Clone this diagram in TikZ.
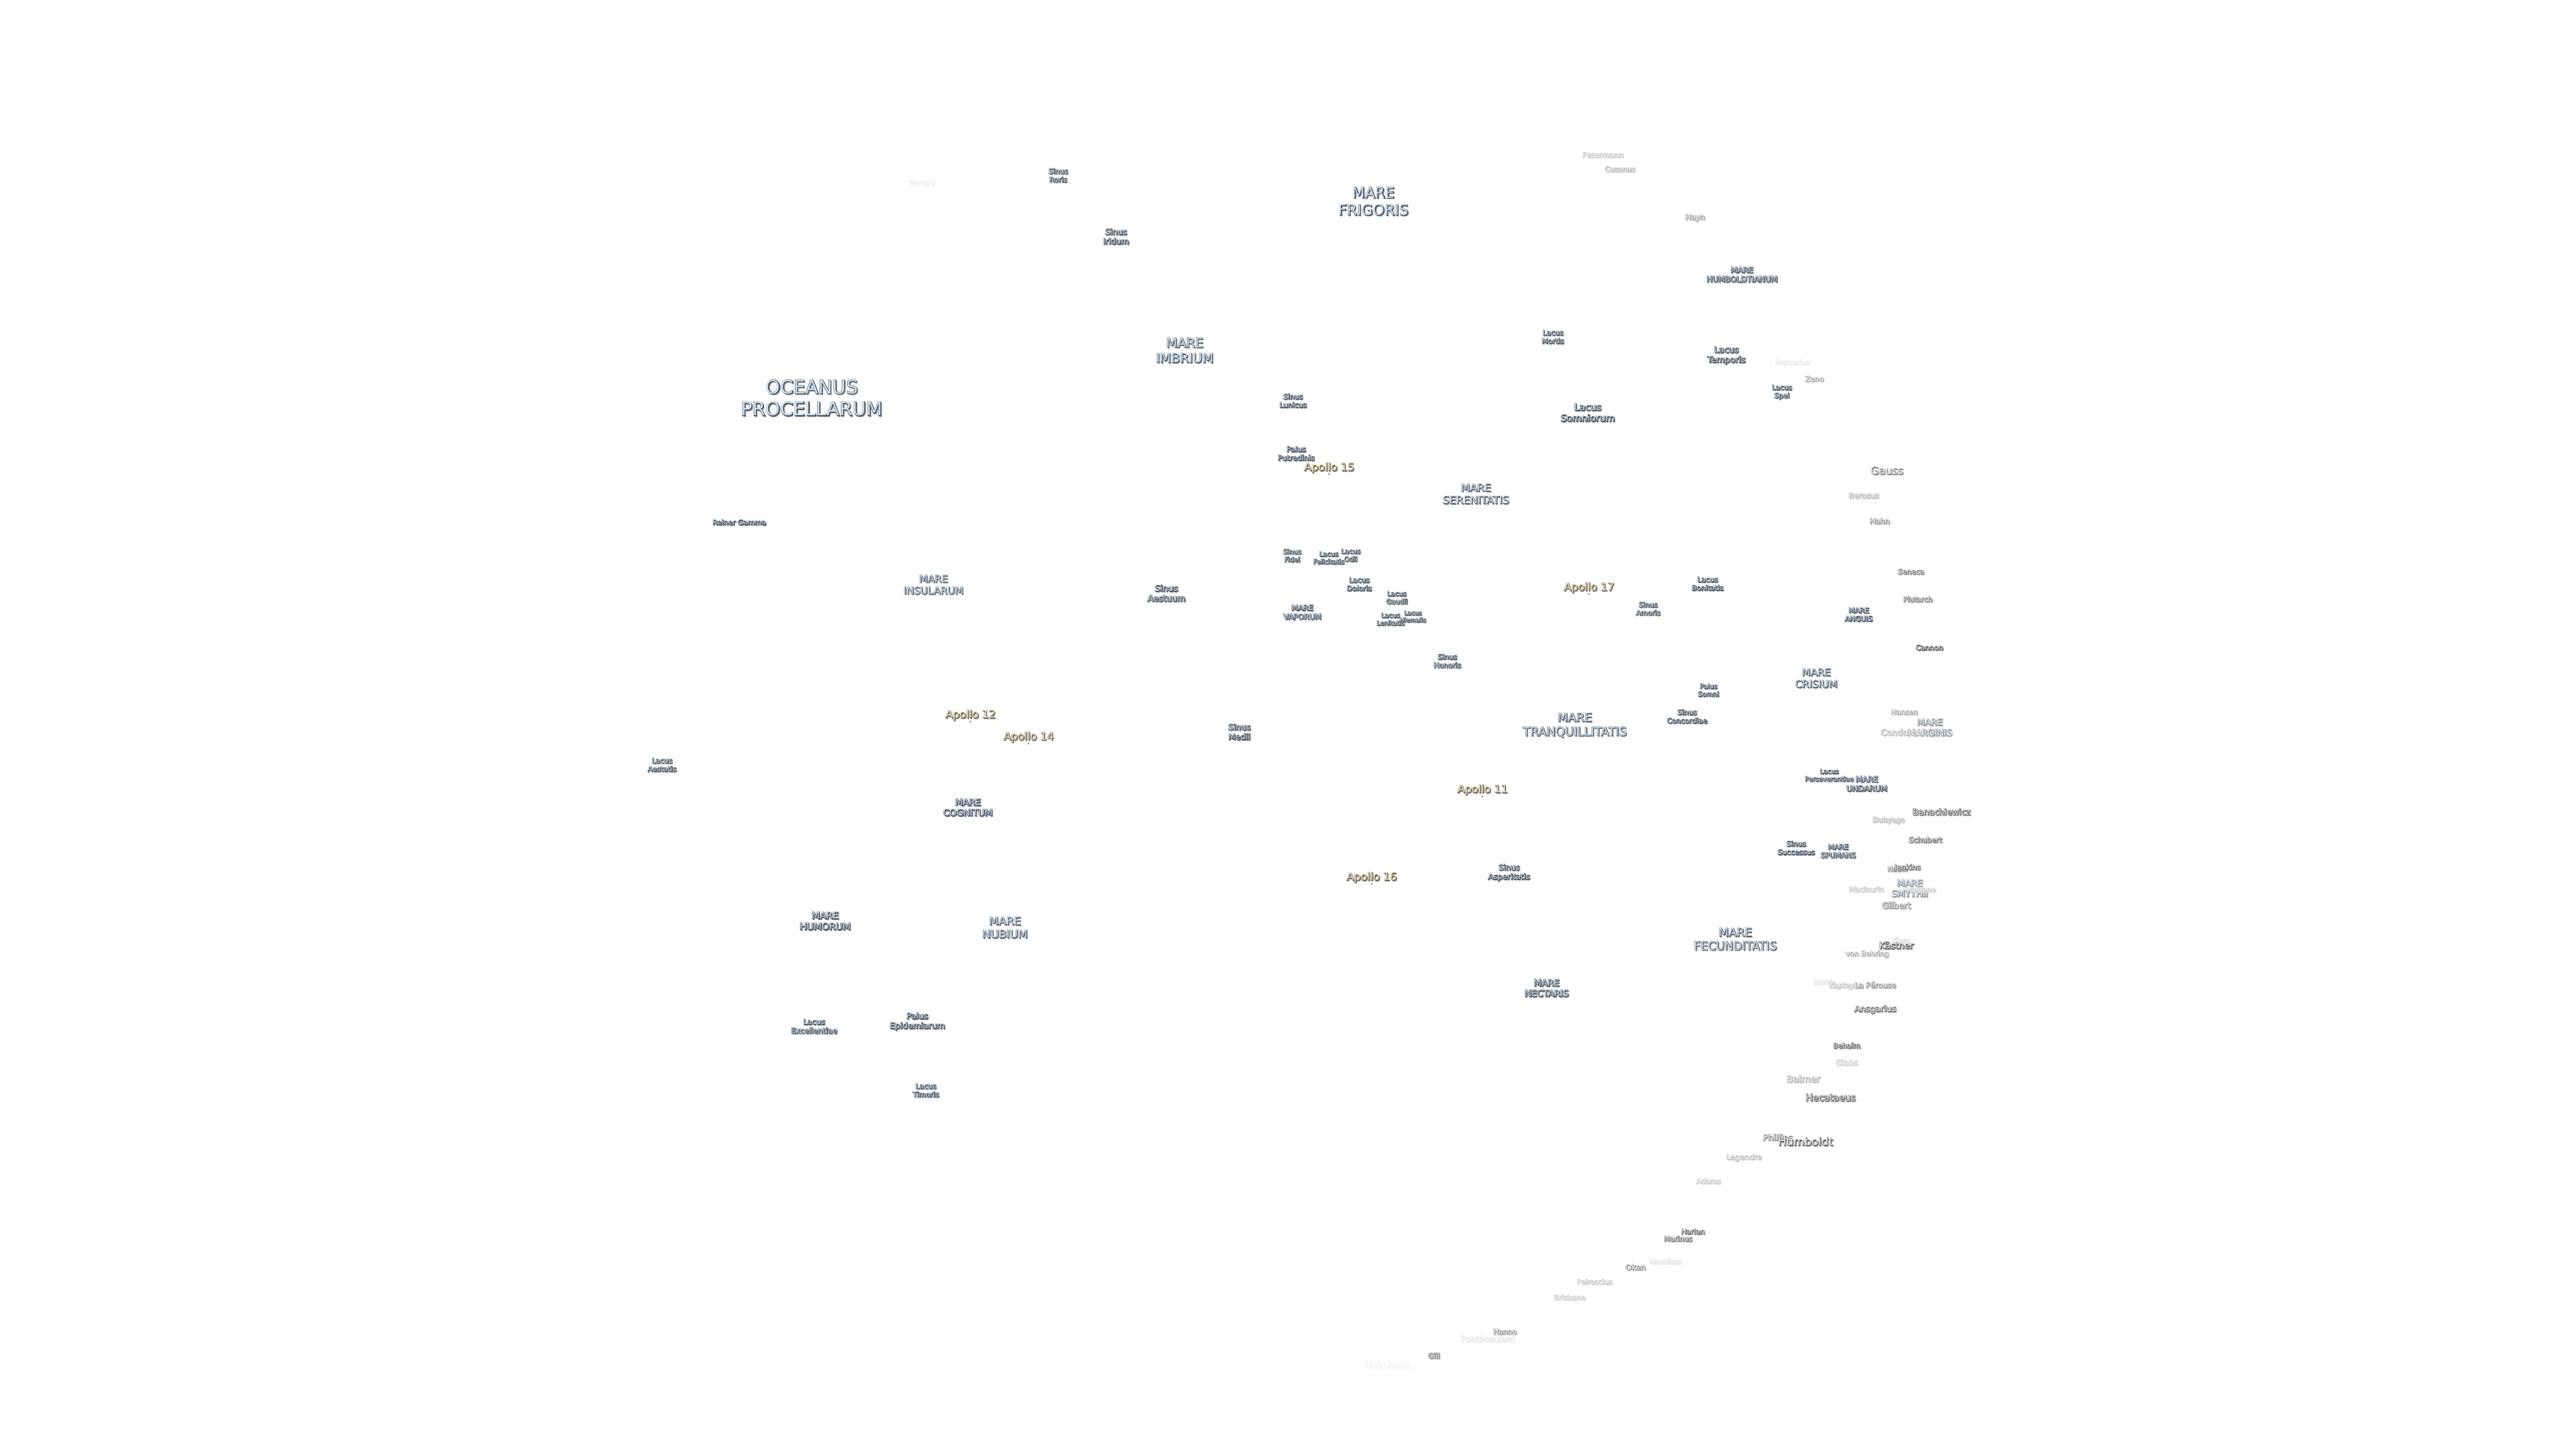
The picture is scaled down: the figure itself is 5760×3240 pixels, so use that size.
\documentclass[tikz,border=0pt]{standalone}
\usepackage{fontspec}
\newfontfamily\moonfont{DejaVu Sans}
\newfontfamily\moonbold[FakeBold=8]{DejaVu Sans}
\newfontfamily\moonthin[FakeBold=4]{DejaVu Sans}

\definecolor{seafill}{HTML}{CFE3F8}
\definecolor{sitefill}{HTML}{FBE3B5}
\definecolor{craterfill}{HTML}{F2F2F2}
\definecolor{sealine}{HTML}{35414D}
\definecolor{siteline}{HTML}{5A5448}
\definecolor{craterline}{HTML}{222222}
\definecolor{moonshadow}{HTML}{808080}

\tikzset{
	lbl/.style={inner sep=0pt, yshift=-3pt},
	site/.style={circle, fill=siteline, inner sep=0pt, minimum size=3.5pt}
}

% size, fill, outline, opacity, lines
\newcommand{\moontext}[5]{%
	\fontsize{#1}{\fpeval{#1*1.17}}\selectfont
	\def\moonlines{\begin{tabular}{@{}c@{}}#5\end{tabular}}%
	\ifdim#1pt>22pt\let\moonstroke\moonthin\else\let\moonstroke\moonbold\fi
	\rlap{\kern2pt\raisebox{-2pt}{\color{moonshadow!#4!white}\moonstroke\moonlines}}%
	\rlap{\color{#3!#4!white}\moonstroke\moonlines}%
	{\color{#2!#4!white}\moonfont\moonlines}%
}
\newcommand{\sea}[2]{\moontext{#1}{seafill}{sealine}{100}{#2}}
\newcommand{\fadedsea}[3]{\moontext{#1}{seafill}{sealine}{#2}{#3}}
\newcommand{\landing}[1]{\moontext{24}{sitefill}{siteline}{100}{#1}}
\newcommand{\crater}[3]{\moontext{#1}{craterfill}{craterline}{#2}{#3}}

\begin{document}
\begin{tikzpicture}[x=1pt, y=-1pt]
	\useasboundingbox (0,0) rectangle (5760,3240);
	\fill [white] (0,0) rectangle (5760,3240);
	% Mers
	\path (1815, 893)	node (procellarum)	[lbl] {\sea{42}{OCEANUS\\PROCELLARUM}};
	\path (2649, 785)	node (imbrium)		[lbl] {\sea{29}{MARE\\IMBRIUM}};
	\path (3071, 452)	node (frigoris)		[lbl] {\sea{33}{MARE\\FRIGORIS}};
	\path (3895, 614)	node (humboldtianum)	[lbl] {\sea{17.5}{MARE\\HUMBOLDTIANUM}};
	\path (3300, 1105)	node (serenitatis)	[lbl] {\sea{23.5}{MARE\\SERENITATIS}};
	\path (2912, 1369)	node (vaporum)		[lbl] {\sea{17}{MARE\\VAPORUM}};
	\path (2087, 1308)	node (insularum)	[lbl] {\sea{22.5}{MARE\\INSULARUM}};
	\path (2164, 1806)	node (cognitum)		[lbl] {\sea{20}{MARE\\COGNITUM}};
	\path (1845, 2060)	node (humorum)		[lbl] {\sea{21}{MARE\\HUMORUM}};
	\path (2247, 2075)	node (nubium)		[lbl] {\sea{25}{MARE\\NUBIUM}};
	\path (3521, 1621)	node (tranquillitatis)	[lbl] {\sea{27}{MARE\\TRANQUILLITATIS}};
	\path (3880, 2101)	node (fecunditatis)	[lbl] {\sea{26}{MARE\\FECUNDITATIS}};
	\path (3458, 2210)	node (nectaris)		[lbl] {\sea{20}{MARE\\NECTARIS}};
	\path (4061, 1517)	node (crisium)		[lbl] {\sea{22.5}{MARE\\CRISIUM}};
	\path (4156, 1374)	node (anguis)		[lbl] {\sea{16}{MARE\\ANGUIS}};
	\path (4174, 1753)	node (undarum)		[lbl] {\sea{17.5}{MARE\\UNDARUM}};
	\path (4110, 1903)	node (spumans)		[lbl] {\sea{16}{MARE\\SPUMANS}};
	\path (4315, 1627)	node (marginis)		[lbl] {\fadedsea{20}{60}{MARE\\MARGINIS}};
	\path (4270, 1987)	node (smythii)		[lbl] {\fadedsea{20}{60}{MARE\\SMYTHII}};
	% Sinus, lacus, palus
	\path (2366, 392)	node (roris)		[lbl] {\sea{16}{Sinus\\Roris}};
	\path (2495, 529)	node (iridum)		[lbl] {\sea{18}{Sinus\\Iridum}};
	\path (2891, 896)	node (lunicus)		[lbl] {\sea{16}{Sinus\\Lunicus}};
	\path (2898, 1014)	node (putredinis)	[lbl] {\sea{16.5}{Palus\\Putredinis}};
	\path (3472, 753)	node (mortis)		[lbl] {\sea{16}{Lacus\\Mortis}};
	\path (3860, 793)	node (temporis)		[lbl] {\sea{19}{Lacus\\Temporis}};
	\path (3984, 875)	node (spei)		[lbl] {\sea{15.5}{Lacus\\Spei}};
	\path (3550, 923)	node (somniorum)	[lbl] {\sea{21}{Lacus\\Somniorum}};
	\path (2889, 1242)	node (fidei)		[lbl] {\sea{15}{Sinus\\Fidei}};
	\path (2971, 1247)	node (felicitatis)	[lbl] {\sea{14.7}{Lacus\\Felicitatis}};
	\path (3020, 1241)	node (odii)		[lbl] {\sea{15}{Lacus\\Odii}};
	\path (3039, 1306)	node (doloris)		[lbl] {\sea{16}{Lacus\\Doloris}};
	\path (3123, 1336)	node (gaudii)		[lbl] {\sea{15}{Lacus\\Gaudii}};
	\path (3109, 1384)	node (lenitatis)	[lbl] {\sea{14.6}{Lacus\\Lenitatis}};
	\path (3159, 1378)	node (hiemalis)		[lbl] {\sea{13.5}{Lacus\\Hiemalis}};
	\path (3236, 1478)	node (honoris)		[lbl] {\sea{16}{Sinus\\Honoris}};
	\path (3685, 1361)	node (amoris)		[lbl] {\sea{15.5}{Sinus\\Amoris}};
	\path (3818, 1305)	node (bonitatis)	[lbl] {\sea{16}{Lacus\\Bonitatis}};
	\path (3820, 1543)	node (somni)		[lbl] {\sea{15}{Palus\\Somni}};
	\path (3772, 1602)	node (concordiae)	[lbl] {\sea{16}{Sinus\\Concordiae}};
	\path (4090, 1733)	node (perseverantiae)	[lbl] {\sea{14.5}{Lacus\\Perseverantiae}};
	\path (4016, 1896)	node (successus)	[lbl] {\sea{16}{Sinus\\Successus}};
	\path (3374, 1950)	node (asperitatis)	[lbl] {\sea{17.5}{Sinus\\Asperitatis}};
	\path (2771, 1637)	node (medii)		[lbl] {\sea{18.5}{Sinus\\Medii}};
	\path (2608, 1327)	node (aestuum)		[lbl] {\sea{19}{Sinus\\Aestuum}};
	\path (1653, 1168)	node (reiner)		[lbl] {\sea{16}{Reiner Gamma}};
	\path (1480, 1710)	node (aestatis)		[lbl] {\sea{16}{Lacus\\Aestatis}};
	\path (1820, 2295)	node (excellentiae)	[lbl] {\sea{17}{Lacus\\Excellentiae}};
	\path (2051, 2283)	node (epidemiarum)	[lbl] {\sea{18.5}{Palus\\Epidemiarum}};
	\path (2070, 2438)	node (timoris)		[lbl] {\sea{16}{Lacus\\Timoris}};
	% Apollo
	\path (2972, 1045)	node (apollo15)		[lbl] {\landing{Apollo 15}};
	\path (3553, 1313)	node (apollo17)		[lbl] {\landing{Apollo 17}};
	\path (2170, 1598)	node (apollo12)		[lbl] {\landing{Apollo 12}};
	\path (2300, 1647)	node (apollo14)		[lbl] {\landing{Apollo 14}};
	\path (3315, 1765)	node (apollo11)		[lbl] {\landing{Apollo 11}};
	\path (3067, 1961)	node (apollo16)		[lbl] {\landing{Apollo 16}};
	\path (2972, 1060)	node (site15)		[site] {};
	\path (3553, 1328)	node (site17)		[site] {};
	\path (2170, 1614)	node (site12)		[site] {};
	\path (2300, 1663)	node (site14)		[site] {};
	\path (3315, 1781)	node (site11)		[site] {};
	\path (3067, 1977)	node (site16)		[site] {};
	% Cratères
	\path (2061, 408)	node (gerard)		[lbl] {\crater{17}{8}{Gerard}};
	\path (3584, 346)	node (petermann)	[lbl] {\crater{17}{28}{Petermann}};
	\path (3622, 378)	node (cusanus)		[lbl] {\crater{16}{38}{Cusanus}};
	\path (3790, 485)	node (hayn)		[lbl] {\crater{17}{50}{Hayn}};
	\path (4008, 810)	node (mercurius)	[lbl] {\crater{16}{12}{Mercurius}};
	\path (4057, 847)	node (zeno)		[lbl] {\crater{16.5}{45}{Zeno}};
	\path (4219, 1053)	node (gauss)		[lbl] {\crater{24}{70}{Gauss}};
	\path (4167, 1108)	node (berosus)		[lbl] {\crater{17}{38}{Berosus}};
	\path (4203, 1165)	node (hahn)		[lbl] {\crater{17}{55}{Hahn}};
	\path (4273, 1278)	node (seneca)		[lbl] {\crater{16}{70}{Seneca}};
	\path (4288, 1340)	node (plutarch)		[lbl] {\crater{16}{70}{Plutarch}};
	\path (4314, 1448)	node (cannon)		[lbl] {\crater{16}{85}{Cannon}};
	\path (4258, 1592)	node (hansen)		[lbl] {\crater{16}{42}{Hansen}};
	\path (4254, 1638)	node (condorcet)	[lbl] {\crater{19}{36}{Condorcet}};
	\path (4341, 1816)	node (banachiewicz)	[lbl] {\crater{19}{80}{Banachiewicz}};
	\path (4223, 1833)	node (dubyago)		[lbl] {\crater{16}{38}{Dubyago}};
	\path (4305, 1878)	node (schubert)		[lbl] {\crater{16.5}{75}{Schubert}};
	\path (4243, 1943)	node (nobili)		[lbl] {\crater{16}{55}{Nobili}};
	\path (4265, 1939)	node (jenkins)		[lbl] {\crater{16.5}{75}{Jenkins}};
	\path (4173, 1988)	node (maclaurin)	[lbl] {\crater{16}{28}{Maclaurin}};
	\path (4295, 1989)	node (haldane)		[lbl] {\crater{16}{28}{Haldane}};
	\path (4240, 2025)	node (gilbert)		[lbl] {\crater{19}{55}{Gilbert}};
	\path (4250, 2103)	node (kiess)		[lbl] {\crater{16}{18}{Kiess}};
	\path (4240, 2115)	node (kastner)		[lbl] {\crater{20}{80}{Kästner}};
	\path (4175, 2132)	node (behring)		[lbl] {\crater{16}{42}{von Behring}};
	\path (4080, 2196)	node (barkla)		[lbl] {\crater{16}{14}{Barkla}};
	\path (4123, 2203)	node (kapteyn)		[lbl] {\crater{16}{32}{Kapteyn}};
	\path (4193, 2203)	node (perouse)		[lbl] {\crater{17}{55}{La Pérouse}};
	\path (4193, 2256)	node (ansgarius)	[lbl] {\crater{19}{70}{Ansgarius}};
	\path (4129, 2338)	node (behaim)		[lbl] {\crater{16}{80}{Behaim}};
	\path (4129, 2376)	node (gibbs)		[lbl] {\crater{17.5}{24}{Gibbs}};
	\path (4032, 2413)	node (balmer)		[lbl] {\crater{21}{38}{Balmer}};
	\path (4093, 2455)	node (hecataeus)	[lbl] {\crater{21}{80}{Hecataeus}};
	\path (3975, 2544)	node (phillips)		[lbl] {\crater{19}{55}{Phillips}};
	\path (4037, 2554)	node (humboldt)		[lbl] {\crater{25}{90}{Humboldt}};
	\path (3899, 2587)	node (legendre)		[lbl] {\crater{17}{32}{Legendre}};
	\path (3820, 2641)	node (adams)		[lbl] {\crater{16}{28}{Adams}};
	\path (3785, 2754)	node (harlan)		[lbl] {\crater{16}{80}{Harlan}};
	\path (3752, 2770)	node (marinus)		[lbl] {\crater{16}{70}{Marinus}};
	\path (3725, 2821)	node (hamilton)		[lbl] {\crater{16}{14}{Hamilton}};
	\path (3657, 2834)	node (oken)		[lbl] {\crater{17.5}{55}{Oken}};
	\path (3565, 2866)	node (peirescius)	[lbl] {\crater{16}{28}{Peirescius}};
	\path (3509, 2901)	node (brisbane)		[lbl] {\crater{16}{28}{Brisbane}};
	\path (3365, 2978)	node (hanno)		[lbl] {\crater{16}{55}{Hanno}};
	\path (3326, 2994)	node (pontecoulant)	[lbl] {\crater{18.5}{12}{Pontécoulant}};
	\path (3206, 3032)	node (gill)		[lbl] {\crater{16.5}{65}{Gill}};
	\path (3102, 3052)	node (helmholtz)	[lbl] {\crater{20}{6}{Helmholtz}};
\end{tikzpicture}
\end{document}
